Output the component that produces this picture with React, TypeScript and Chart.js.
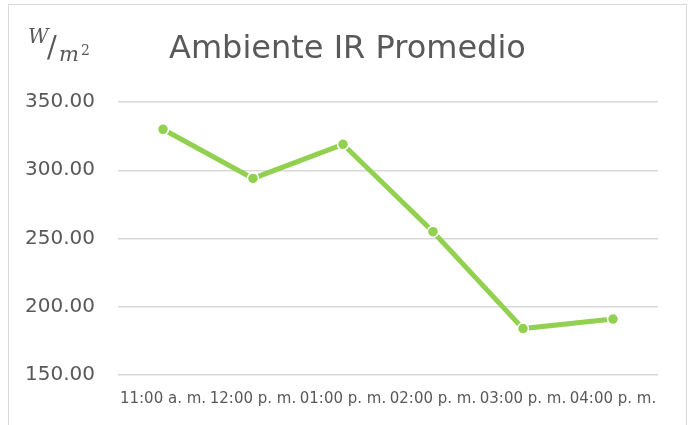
import React, { useEffect, useRef } from "react";
import { Chart, registerables } from "chart.js";

Chart.register(...registerables);

const categories = [
  "11:00 a. m.",
  "12:00 p. m.",
  "01:00 p. m.",
  "02:00 p. m.",
  "03:00 p. m.",
  "04:00 p. m.",
];
const irValues = [330, 294, 319, 255, 184, 191];
const yMin = 150;
const yMax = 350;
const yStep = 50;
const chartTitle = "Ambiente IR Promedio";

const textColor = "#595959";
const lineColor = "#92D050";
const gridColor = "#d9d9d9";

const overlayPlugin = {
  id: "overlayText",
  afterDraw(chart: any) {
    const ctx = chart.ctx;
    ctx.save();
    ctx.fillStyle = textColor;
    ctx.textBaseline = "alphabetic";
    ctx.textAlign = "left";
    ctx.font = "32px 'DejaVu Sans'";
    ctx.fillText(chartTitle, 169, 58);
    // unit label W/m²
    ctx.font = "italic 20px 'DejaVu Serif'";
    ctx.fillText("W", 28, 43);
    ctx.font = "29px 'DejaVu Serif'";
    ctx.fillText("/", 47, 57);
    ctx.font = "italic 21px 'DejaVu Serif'";
    ctx.fillText("m", 59, 61);
    ctx.font = "14px 'DejaVu Serif'";
    ctx.fillText("2", 81, 55);
    ctx.restore();
  },
};

export default function App() {
  const ref = useRef<HTMLCanvasElement>(null);
  useEffect(() => {
    if (!ref.current) return;
    const chart = new Chart(ref.current, {
      type: "line",
      data: {
        labels: categories,
        datasets: [
          {
            data: irValues,
            borderColor: lineColor,
            backgroundColor: lineColor,
            borderWidth: 5,
            pointRadius: 5.5,
            pointBorderColor: "#ffffff",
            pointBorderWidth: 1.5,
            pointBackgroundColor: lineColor,
            tension: 0,
          },
        ],
      },
      options: {
        animation: false,
        responsive: false,
        maintainAspectRatio: false,
        layout: { padding: { top: 102, right: 34, bottom: 0, left: 0 } },
        plugins: {
          legend: { display: false },
          tooltip: { enabled: false },
          title: { display: false },
        },
        scales: {
          x: {
            type: "category",
            offset: true,
            grid: { display: false, drawTicks: false },
            border: { display: false },
            ticks: {
              color: textColor,
              font: { family: "'DejaVu Sans'", size: 15 },
              padding: 15,
              maxRotation: 0,
              minRotation: 0,
              autoSkip: false,
            },
            afterFit(scale: any) {
              scale.height = 50;
            },
          },
          y: {
            min: yMin,
            max: yMax,
            grid: { color: gridColor, lineWidth: 1.5, drawTicks: false },
            border: { display: false },
            ticks: {
              stepSize: yStep,
              color: textColor,
              font: { family: "'DejaVu Sans'", size: 20 },
              padding: 23,
              callback: (v: any) => Number(v).toFixed(2),
            },
            afterFit(scale: any) {
              scale.width = 118;
            },
          },
        },
      },
      plugins: [overlayPlugin],
    });
    return () => chart.destroy();
  }, []);

  return (
    <div style={{ position: "fixed", left: 0, top: 0, width: 692, height: 425, background: "#fff", overflow: "hidden" }}>
      <div
        style={{
          position: "absolute",
          left: 8,
          top: 4,
          width: 679,
          height: 460,
          border: "1px solid #d9d9d9",
          boxSizing: "border-box",
        }}
      />
      <canvas ref={ref} width={692} height={425} style={{ position: "absolute", left: 0, top: 0, width: 692, height: 425 }} />
    </div>
  );
}
